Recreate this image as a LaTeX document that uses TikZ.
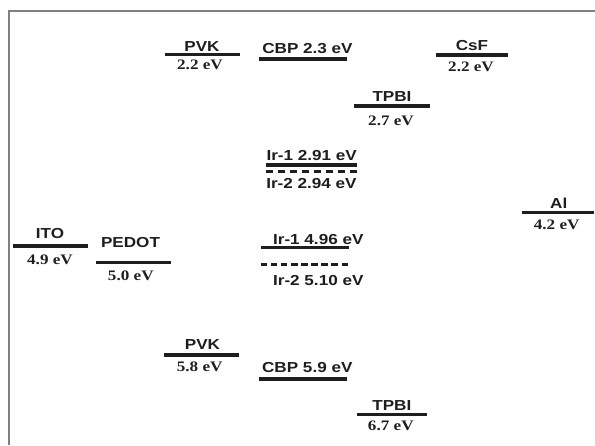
\documentclass[tikz,border=0pt]{standalone}
\usepackage{fontspec}
\newfontfamily\namefont{Liberation Sans}
\newfontfamily\valfont{Liberation Serif}
\definecolor{lvlink}{RGB}{30,30,30}
\definecolor{framegray}{RGB}{128,128,128}
\tikzset{
  lvlfig/.style={x=1pt,y=-1pt},
  lvl/.style={lvlink,line width=3.2pt},
  lvldash/.style={lvlink,line width=2.6pt,dash pattern=on 7pt off 5pt},
  matname/.style={anchor=base,inner sep=0pt,text=lvlink,xscale=1.18,
    font=\namefont\bfseries\fontsize{14.5}{16}\selectfont},
  matval/.style={matname,font=\valfont\bfseries\fontsize{14.5}{16}\selectfont}
}

\begin{document}
\begin{tikzpicture}[lvlfig]
    \useasboundingbox (0,0) rectangle (595,445);
    \draw[framegray,line width=1.7pt] (8.9,445) -- (8.9,11.3) -- (595,11.3);
    % solid levels
    \foreach \xa/\xb/\y in {164.5/240/54.3, 259.3/347.3/59, 436/508.3/55,
        354/430/106, 266/357/165, 521.7/594/212.3, 13.3/88.3/246,
        96/170.7/262.3, 260.7/349.3/247.7, 164.3/239.3/355,
        259.3/347.3/379, 357.3/426.7/414.3}
      \draw[lvl] (\xa,\y) -- (\xb,\y);
    % Ir-2 levels
    \draw[lvldash] (266,171.3) -- (357,171.3);
    \draw[lvldash,dash pattern=on 6.5pt off 3.6pt] (260.7,264.7) -- (348.3,264.7);
    % LUMO side
    \node[matname] (pvkL) at (202,51.5) {PVK};
    \node[matval] (pvkLv) at (200,69.5) {2.2 eV};
    \node[matname] (cbpL) at (307.5,53.3) {CBP 2.3 eV};
    \node[matname] (csf) at (472,50.7) {CsF};
    \node[matval] (csfv) at (471,71.7) {2.2 eV};
    \node[matname] (tpbiL) at (392,101.7) {TPBI};
    \node[matval] (tpbiLv) at (391,125) {2.7 eV};
    \node[matname] (irAL) at (311.7,160.7) {Ir-1 2.91 eV};
    \node[matname] (irBL) at (311.5,188.3) {Ir-2 2.94 eV};
    % electrodes
    \node[matname] (al) at (558.7,208.3) {Al};
    \node[matval] (alv) at (556.7,229.3) {4.2 eV};
    \node[matname] (ito) at (50,238.3) {ITO};
    \node[matval] (itov) at (50,264) {4.9 eV};
    \node[matname] (pedot) at (130.5,247.7) {PEDOT};
    \node[matval] (pedotv) at (130.8,280.7) {5.0 eV};
    % HOMO side
    \node[matname] (irAH) at (318.3,244) {Ir-1 4.96 eV};
    \node[matname] (irBH) at (318.3,285) {Ir-2 5.10 eV};
    \node[matname] (pvkH) at (202.5,349.3) {PVK};
    \node[matval] (pvkHv) at (199.7,371) {5.8 eV};
    \node[matname] (cbpH) at (307.3,372.7) {CBP 5.9 eV};
    \node[matname] (tpbiH) at (391.8,410) {TPBI};
    \node[matval] (tpbiHv) at (390.8,430) {6.7 eV};
\end{tikzpicture}
\end{document}
